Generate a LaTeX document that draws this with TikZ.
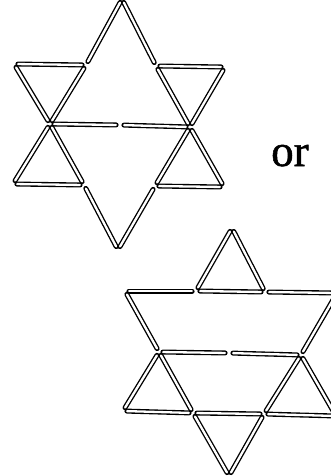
\documentclass[tikz,border=0pt]{standalone}
\usepackage{fontspec}
\newfontfamily\orfont[FakeBold=1.2]{Liberation Serif}
\tikzset{
  stickout/.style={line width=5pt, black, line cap=round, shorten <=3.9pt, shorten >=3.9pt},
  stickin/.style={line width=2.3pt, white, line cap=round, shorten <=4.1pt, shorten >=4.1pt},
  ortext/.style={anchor=base west, inner sep=0pt, font=\orfont\fontsize{45}{45}\selectfont}
}
\newcommand{\stk}[2]{\draw[stickout] (#1) -- (#2); \draw[stickin] (#1) -- (#2);}
\begin{document}
\begin{tikzpicture}[x=1pt,y=-1pt]
\useasboundingbox (0,0) rectangle (331,476);
\clip (0,0) rectangle (331,476);
% ---------- figure 1 ----------
\coordinate (A) at (122,-1);
\coordinate (B1) at (14,64);
\coordinate (B2) at (86,65);
\coordinate (B3) at (156,66);
\coordinate (B4) at (225,67);
\coordinate (C1) at (50,124);
\coordinate (C2) at (120,125);
\coordinate (C3) at (190,127);
\coordinate (D1) at (13,184);
\coordinate (D2) at (84,185);
\coordinate (D3) at (155,186);
\coordinate (D4) at (224,187);
\coordinate (E) at (118,250);
\stk{A}{B2} \stk{B2}{C1} \stk{C1}{D1}
\stk{A}{B3} \stk{B3}{C3} \stk{C3}{D4}
\stk{B1}{C1} \stk{C1}{D2} \stk{D2}{E}
\stk{B4}{C3} \stk{C3}{D3} \stk{D3}{E}
\stk{B1}{B2} \stk{B3}{B4}
\stk{C1}{C2} \stk{C2}{C3}
\stk{D1}{D2} \stk{D3}{D4}
% ---------- figure 2 ----------
\coordinate (P) at (232,228);
\coordinate (Q1) at (125,291);
\coordinate (Q2) at (196,291);
\coordinate (Q3) at (265,292);
\coordinate (Q4) at (337,293);
\coordinate (R1) at (159,352);
\coordinate (R2) at (229,353);
\coordinate (R3) at (301,355);
\coordinate (S1) at (123,411);
\coordinate (S2) at (193,413);
\coordinate (S3) at (264,414);
\coordinate (S4) at (336,416);
\coordinate (T) at (229,476);
\stk{P}{Q2} \stk{P}{Q3} \stk{Q2}{Q3}
\stk{Q1}{Q2} \stk{Q3}{Q4}
\stk{Q1}{R1} \stk{Q4}{R3}
\stk{R1}{R2} \stk{R2}{R3}
\stk{R1}{S1} \stk{R1}{S2} \stk{S1}{S2}
\stk{R3}{S3} \stk{R3}{S4} \stk{S3}{S4}
\stk{S2}{S3} \stk{S2}{T} \stk{S3}{T}
% ---------- text ----------
\node[ortext] (or) at (271,166) {or};
\end{tikzpicture}
\end{document}
